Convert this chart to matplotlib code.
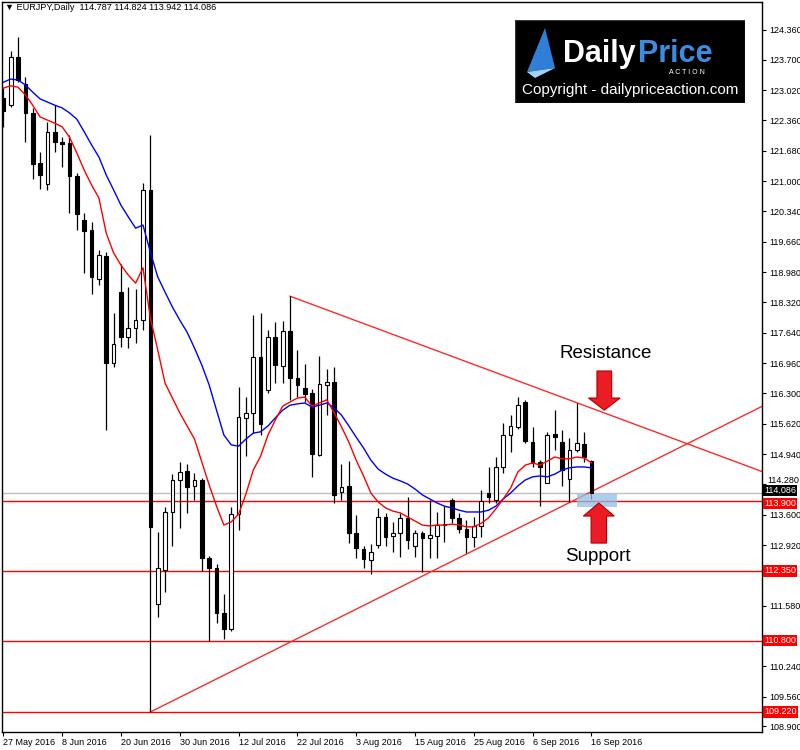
import matplotlib
matplotlib.use('Agg')
import matplotlib.pyplot as plt
from matplotlib.patches import Rectangle, Polygon
import matplotlib.transforms as mtransforms
import numpy as np

plt.rcParams['font.family'] = ['Liberation Sans', 'DejaVu Sans']

# ---------------- data ----------------
title_text = '\u25bc EURJPY,Daily  114.787 114.824 113.942 114.086'

date_label_bars = [0, 8, 16, 24, 32, 40, 48, 56, 64, 72, 80]
date_labels = ['27 May 2016', '8 Jun 2016', '20 Jun 2016', '30 Jun 2016', '12 Jul 2016',
               '22 Jul 2016', '3 Aug 2016', '15 Aug 2016', '25 Aug 2016', '6 Sep 2016',
               '16 Sep 2016']

opens = [122.85, 122.69, 123.76, 123.16, 122.52, 121.41, 120.94, 122.10, 121.87, 121.85,
         121.12, 120.14, 119.92, 118.83, 119.34, 116.97, 118.54, 117.54, 117.74, 117.92,
         120.81, 111.62, 112.37, 113.66, 114.37, 114.57, 114.24, 114.37, 112.64, 112.42,
         111.42, 111.06, 113.61, 115.75, 115.86, 117.10, 116.37, 117.54, 116.90, 117.68,
         116.63, 116.41, 116.30, 114.92, 116.48, 116.55, 114.10, 114.24, 113.19, 112.84,
         112.59, 112.93, 113.55, 113.13, 113.19, 113.53, 112.90, 113.19, 113.08, 113.13,
         113.37, 113.93, 113.53, 113.28, 113.10, 113.35, 114.08, 113.93, 114.66, 115.37,
         115.55, 116.10, 115.21, 114.77, 114.30, 115.39, 115.21, 114.39, 115.04, 115.17,
         114.787]
highs = [123.07, 123.89, 124.20, 123.32, 122.63, 121.65, 122.32, 122.69, 121.98, 122.03,
         121.18, 120.30, 120.10, 119.48, 119.43, 118.08, 119.16, 118.65, 118.61, 120.96,
         122.03, 113.22, 113.77, 114.50, 114.77, 114.72, 114.52, 114.41, 112.68, 112.50,
         111.84, 113.77, 116.43, 116.21, 118.03, 118.08, 117.70, 117.88, 117.90, 118.45,
         117.26, 116.94, 116.39, 117.12, 116.83, 116.88, 114.72, 114.79, 113.59, 112.90,
         112.95, 113.75, 113.64, 113.44, 113.64, 113.99, 113.26, 113.24, 113.93, 113.66,
         113.79, 113.97, 113.64, 113.48, 113.55, 114.15, 114.66, 114.88, 115.63, 115.81,
         116.21, 116.15, 115.55, 114.81, 115.44, 115.92, 115.48, 115.30, 116.08, 115.44,
         114.824]
lows = [122.21, 122.65, 123.21, 121.87, 121.05, 120.83, 120.81, 121.65, 121.32, 120.30,
        119.92, 118.96, 118.50, 118.70, 115.48, 116.88, 117.32, 117.30, 117.41, 117.70,
        109.22, 111.33, 111.88, 112.90, 113.30, 113.64, 113.93, 112.35, 110.80, 111.19,
        110.84, 111.02, 113.26, 114.90, 115.41, 115.37, 116.30, 116.52, 116.52, 116.15,
        116.21, 116.10, 114.43, 114.90, 115.81, 113.86, 113.93, 112.97, 112.64, 112.42,
        112.28, 112.86, 112.90, 112.77, 112.66, 112.84, 112.66, 112.33, 112.64, 112.64,
        112.99, 113.41, 113.19, 112.75, 112.88, 113.10, 113.86, 113.86, 114.52, 114.99,
        115.50, 115.19, 114.66, 113.79, 114.30, 115.04, 114.24, 113.88, 114.99, 114.77,
        113.942]
closes = [122.56, 123.76, 123.25, 122.52, 121.38, 121.14, 122.10, 121.87, 121.83, 121.12,
          120.27, 119.90, 118.88, 119.36, 116.97, 117.39, 117.54, 117.74, 117.92, 120.81,
          113.33, 112.42, 113.66, 114.37, 114.55, 114.21, 114.37, 112.64, 112.42, 111.42,
          111.06, 113.61, 115.77, 115.86, 117.10, 115.61, 117.54, 116.92, 117.68, 116.63,
          116.48, 116.28, 114.95, 116.50, 116.55, 114.04, 114.21, 113.19, 112.86, 112.62,
          112.77, 113.55, 113.10, 113.19, 113.53, 113.04, 113.19, 113.08, 113.15, 113.37,
          113.39, 113.53, 113.28, 113.10, 113.35, 113.90, 113.99, 114.66, 115.37, 115.57,
          116.03, 115.24, 114.75, 114.66, 115.37, 115.32, 114.59, 115.04, 115.19, 114.88,
          114.086]

ma_red = [123.07, 123.12, 123.09, 122.92, 122.69, 122.43, 122.36, 122.29, 122.21, 121.98,
          121.63, 121.25, 120.92, 120.63, 119.85, 119.41, 119.14, 118.92, 118.74, 119.08,
          117.97, 117.26, 116.52, 116.19, 115.86, 115.57, 115.28, 114.77, 114.26, 113.79,
          113.37, 113.44, 113.61, 114.06, 114.59, 114.90, 115.37, 115.70, 116.01, 116.10,
          116.19, 116.21, 116.01, 116.08, 116.15, 115.86, 115.55, 115.21, 114.81, 114.46,
          114.08, 113.88, 113.75, 113.68, 113.64, 113.55, 113.46, 113.37, 113.35, 113.37,
          113.37, 113.39, 113.37, 113.33, 113.33, 113.41, 113.53, 113.73, 113.95, 114.19,
          114.55, 114.70, 114.75, 114.70, 114.79, 114.88, 114.84, 114.84, 114.88, 114.86,
          114.75]
ma_blue = [123.20, 123.27, 123.25, 123.14, 122.98, 122.83, 122.76, 122.69, 122.63, 122.52,
           122.38, 122.10, 121.81, 121.54, 121.14, 120.81, 120.47, 120.21, 119.96, 120.03,
           119.43, 118.88, 118.54, 118.21, 117.92, 117.65, 117.30, 116.92, 116.48, 115.92,
           115.37, 115.15, 115.12, 115.28, 115.41, 115.44, 115.57, 115.75, 115.92, 116.03,
           116.06, 116.08, 115.99, 116.03, 116.08, 115.97, 115.81, 115.57, 115.32, 115.08,
           114.81, 114.61, 114.50, 114.41, 114.35, 114.28, 114.17, 114.04, 113.95, 113.86,
           113.79, 113.75, 113.70, 113.66, 113.66, 113.66, 113.70, 113.79, 113.95, 114.08,
           114.24, 114.37, 114.44, 114.46, 114.44, 114.50, 114.59, 114.64, 114.66, 114.66,
           114.64]

levels = [113.90, 112.35, 110.80, 109.22]
level_labels = ['113.900', '112.350', '110.800', '109.220']
last_price = 114.086
last_label = '114.086'

price_ticks = [124.360, 123.700, 123.020, 122.360, 121.680, 121.000, 120.340, 119.660,
               118.980, 118.320, 117.640, 116.960, 116.300, 115.620, 114.940, 114.280,
               113.600, 112.920, 112.260, 111.580, 110.900, 110.240, 109.560, 108.900]
hidden_ticks = [112.260, 110.900]
raised_tick = 114.280

res_x = [39, 104]
res_y = [118.45, 114.51]
sup_x = [20, 104]
sup_y = [109.22, 116.07]
zone_x = [78.0, 83.5]
zone_y = [113.77, 114.06]

# ---------------- figure ----------------
fig = plt.figure(figsize=(8, 7.5), dpi=100)
fig.patch.set_facecolor('white')
ax = fig.add_axes([2 / 800, 18 / 750, 760 / 800, 730 / 750])
ax.set_facecolor('white')

n = len(opens)
idx = np.arange(n)
o = np.array(opens); h = np.array(highs); l = np.array(lows); c = np.array(closes)
up = c >= o

# wicks
ax.vlines(idx, l, h, color='black', lw=0.9, zorder=3)
# bodies
body_bottom = np.minimum(o, c)
body_h = np.maximum(np.abs(c - o), 0.025)
ax.bar(idx[up], body_h[up], bottom=body_bottom[up], width=0.5, color='white',
       edgecolor='black', linewidth=0.8, zorder=4)
ax.bar(idx[~up], body_h[~up], bottom=body_bottom[~up], width=0.5, color='black',
       edgecolor='black', linewidth=0.8, zorder=4)

# moving averages
ax.plot(idx, ma_blue, color='#0000ff', lw=1.0, zorder=5)
ax.plot(idx, ma_red, color='#ff0000', lw=1.0, zorder=5)

# horizontal levels
for lv in levels:
    ax.axhline(lv, color='#ff0000', lw=1.0, zorder=2)
ax.axhline(last_price, color='#c0c0c0', lw=1.0, zorder=1)

# trend lines
ax.plot(res_x, res_y, color='#ff2a2a', lw=1.0, zorder=2)
ax.plot(sup_x, sup_y, color='#ff2a2a', lw=1.0, zorder=2)

# support zone
ax.add_patch(Rectangle((zone_x[0], zone_y[0]), zone_x[1] - zone_x[0], zone_y[1] - zone_y[0],
                       facecolor='#8fc0e6', edgecolor='none', alpha=0.75, zorder=6))

# arrows
def arrow_poly(cx, tail, head_base, tip, body_hw, head_hw):
    return [(cx - body_hw, tail), (cx + body_hw, tail), (cx + body_hw, head_base),
            (cx + head_hw, head_base), (cx, tip), (cx - head_hw, head_base),
            (cx - body_hw, head_base)]

ax.add_patch(Polygon(arrow_poly(81.75, 116.79, 116.19, 115.92, 1.0, 2.15),
                     closed=True, facecolor='#ec1c24', edgecolor='#b40000', lw=0.8, zorder=7))
ax.add_patch(Polygon(arrow_poly(81.0, 112.97, 113.57, 113.86, 1.05, 2.1),
                     closed=True, facecolor='#ec1c24', edgecolor='#b40000', lw=0.8, zorder=7))

ax.text(81.9, 117.17, 'Resistance', fontsize=13.5, ha='center', va='center', color='black', zorder=8)
ax.text(80.9, 112.68, 'Support', fontsize=13.5, ha='center', va='center', color='black', zorder=8)

# axes limits and ticks
ax.set_xlim(-0.18, 103.2)
ax.set_ylim(108.776, 124.981)
ax.yaxis.tick_right()
ax.set_yticks(price_ticks)
ax.set_yticklabels(['' if (t in hidden_ticks or t == raised_tick) else f'{t:.3f}' for t in price_ticks])
ax.tick_params(axis='y', direction='out', length=3, width=0.8, pad=2, labelsize=6.5, colors='black')
ax.set_xticks(date_label_bars)
ax.set_xticklabels(date_labels, ha='left')
ax.tick_params(axis='x', direction='out', length=3, width=0.8, pad=1.5, labelsize=6.5)
for sp in ax.spines.values():
    sp.set_color('black'); sp.set_linewidth(1.0)

# price labels on axis
blend = mtransforms.blended_transform_factory(ax.transAxes, ax.transData)
up_shift = blend + mtransforms.ScaledTranslation(0, 2.0 / 100, fig.dpi_scale_trans)
down_shift = blend + mtransforms.ScaledTranslation(0, -2.0 / 100, fig.dpi_scale_trans)
tick_shift = blend + mtransforms.ScaledTranslation(5.0 / 100, 4.0 / 100, fig.dpi_scale_trans)
ax.text(1.0, raised_tick, f'{raised_tick:.3f}', transform=tick_shift, fontsize=6.5, color='black',
        ha='left', va='center', clip_on=False, zorder=9)
for lv, lab in zip(levels, level_labels):
    tr = down_shift if lab == '113.900' else blend
    ax.text(1.003, lv, lab, transform=tr, fontsize=6.5, color='white', ha='left', va='center',
            bbox=dict(boxstyle='square,pad=0.12', fc='#ff0000', ec='none'), clip_on=False, zorder=10)
ax.text(1.003, last_price, last_label, transform=up_shift, fontsize=6.5, color='white', ha='left',
        va='center', bbox=dict(boxstyle='square,pad=0.12', fc='black', ec='none'), clip_on=False, zorder=11)

# title
fig.text(5 / 800, 1 - 8 / 750, title_text, fontsize=6.6, ha='left', va='center', color='black')

# logo
lax = fig.add_axes([515 / 800, 1 - 103 / 750, 230 / 800, 83 / 750])
lax.set_xlim(0, 230); lax.set_ylim(83, 0)
lax.axis('off')
lax.add_patch(Rectangle((0, 0), 230, 83, facecolor='black', edgecolor='#333333', lw=1))
lax.add_patch(Polygon([(12, 52), (30, 8), (40, 48)], closed=True, facecolor='#2f7fd8', edgecolor='none'))
lax.add_patch(Polygon([(12, 52), (40, 48), (20, 58)], closed=True, facecolor='#9fd2ff', edgecolor='none'))
lax.text(48, 34, 'Daily', fontsize=22, fontweight='bold', color='white', ha='left', va='center')
lax.text(123, 34, 'Price', fontsize=22, fontweight='bold', color='#3a8de0', ha='left', va='center')
lax.text(172, 52, 'A C T I O N', fontsize=5, color='white', ha='center', va='center')
lax.text(115, 70, 'Copyright - dailypriceaction.com', fontsize=11, color='white', ha='center', va='center')

fig.savefig('out.png', dpi=100)
